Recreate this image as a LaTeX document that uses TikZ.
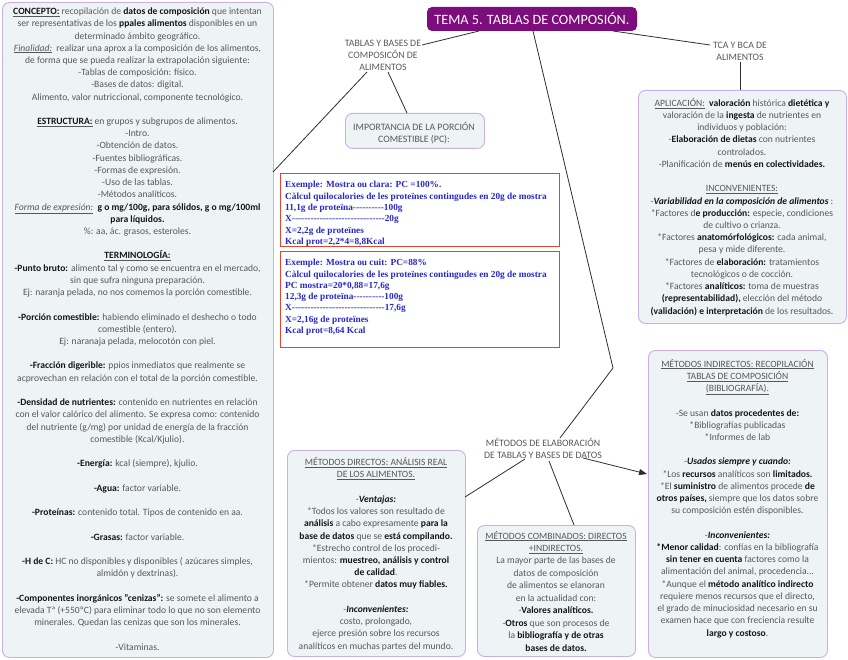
\documentclass[tikz,border=0pt]{standalone}
\usepackage{fontspec}
\setmainfont{Carlito}
\newfontfamily\tnr{Liberation Serif}
\usetikzlibrary{calc,arrows.meta}
\definecolor{panelfill}{RGB}{238,243,246}
\definecolor{panelline}{RGB}{200,176,236}
\definecolor{titlepurple}{RGB}{125,12,125}
\definecolor{txtgray}{RGB}{88,88,88}
\definecolor{bkt}{RGB}{22,22,22}
\definecolor{calcblue}{RGB}{40,40,200}
\definecolor{calcred}{RGB}{222,72,46}
\definecolor{linec}{RGB}{45,45,45}
\newcommand{\bk}[1]{\textbf{\color{bkt}#1}}
\newcommand{\uln}[1]{\underline{#1}}
\newcommand{\sq}{\char34\relax}
\ExplSyntaxOn
\cs_new:Npn \dashrun #1 {\prg_replicate:nn{#1}{-\kern0pt}}
\ExplSyntaxOff
\tikzset{
  panel/.style={draw=panelline, fill=panelfill, line width=0.9pt, rounded corners=7pt, inner sep=0pt, anchor=north west},
  body/.style={align=center, text=txtgray, inner sep=0pt, font=\fontsize{9.6}{12.22}\selectfont, anchor=base},
  lbl/.style={align=center, text=txtgray, inner sep=0pt, font=\fontsize{9.8}{12.2}\selectfont, anchor=base},
  calcbox/.style={draw=calcred, line width=1.3pt, fill=white, inner sep=0pt, anchor=north west},
  calctext/.style={align=left, text=calcblue, inner sep=0pt, anchor=base west, font=\tnr\bfseries\fontsize{9.3}{11.3}\selectfont},
  titlebox/.style={fill=titlepurple, text=white, rounded corners=5pt, inner sep=0pt, minimum width=210pt, minimum height=24pt, font=\fontsize{14.2}{16}\selectfont},
  conn/.style={draw=linec, line width=0.8pt}
}
\begin{document}
\begin{tikzpicture}[x=1pt,y=-1pt]
\useasboundingbox (0,0) rectangle (848,660);

% ---------------- boxes ----------------
\node[panel, minimum width=271pt, minimum height=655pt] (leftbox) at (2,2) {};
\node[panel, minimum width=208pt, minimum height=233pt] (aplbox) at (638,90) {};
\node[panel, minimum width=139pt, minimum height=35pt] (impbox) at (345,113) {};
\node[calcbox, minimum width=279pt, minimum height=73pt] (red1) at (280,173) {};
\node[calcbox, minimum width=279pt, minimum height=96pt] (red2) at (280,251) {};
\node[panel, minimum width=178pt, minimum height=206pt] (dirbox) at (287,450) {};
\node[panel, minimum width=158pt, minimum height=131pt] (combox) at (477,525) {};
\node[panel, minimum width=179pt, minimum height=307pt] (indbox) at (648,350) {};
\node[titlebox] (title) at (532,19) {TEMA 5. TABLAS DE COMPOSIÓN.};

% ---------------- labels (anchor = baseline of last line) ----------------
\node[lbl] (tablas) at (383,70.5) {TABLAS Y BASES DE\\COMPOSICÓN DE\\ALIMENTOS};
\node[lbl] (tca) at (740,60.5) {TCA Y BCA DE\\ALIMENTOS};
\node[lbl] (imp) at (414,142.5) {IMPORTANCIA DE LA PORCIÓN\\COMESTIBLE (PC):};
\node[lbl] (metodos) at (543,458.5) {MÉTODOS DE ELABORACIÓN\\DE TABLAS Y BASES DE DATOS};

% ---------------- left panel text ----------------
\node[body] (lefttext) at (137.5,650) {%
\uln{\bk{CONCEPTO:}} recopilación de \bk{datos de composición} que intentan\\
ser representativas de los \bk{ppales alimentos} disponibles en un\\
determinado ámbito geográfico.\\
\uln{\textit{Finalidad:}}\ \ realizar una aprox a la composición de los alimentos,\\
de forma que se pueda realizar la extrapolación siguiente:\\
-Tablas de composición: físico.\\
-Bases de datos: digital.\\
Alimento, valor nutriccional, componente tecnológico.\\[12.22pt]
\uln{\bk{ESTRUCTURA:}} en grupos y subgrupos de alimentos.\\
-Intro.\\
-Obtención de datos.\\
-Fuentes bibliográficas.\\
-Formas de expresión.\\
-Uso de las tablas.\\
-Métodos analíticos.\\
\uln{\textit{Forma de expresión:}}\ \ \bk{g o mg/100g, para sólidos, g o mg/100ml}\\
\bk{para líquidos.}\\
\%: aa, ác. grasos, esteroles.\\[12.22pt]
\uln{\bk{TERMINOLOGÍA:}}\\
\bk{-Punto bruto:} alimento tal y como se encuentra en el mercado,\\
sin que sufra ninguna preparación.\\
Ej: naranja pelada, no nos comemos la porción comestible.\\[12.22pt]
\bk{-Porción comestible:} habiendo eliminado el deshecho o todo\\
comestible (entero).\\
Ej: naranaja pelada, melocotón con piel.\\[12.22pt]
\bk{-Fracción digerible:} ppios inmediatos que realmente se\\
acprovechan en relación con el total de la porción comestible.\\[12.22pt]
\bk{-Densidad de nutrientes:} contenido en nutrientes en relación\\
con el valor calórico del alimento. Se expresa como: contenido\\
del nutriente (g/mg) por unidad de energía de la fracción\\
comestible (Kcal/Kjulio).\\[12.22pt]
\bk{-Energía:} kcal (siempre), kjulio.\\[12.22pt]
\bk{-Agua:} factor variable.\\[12.22pt]
\bk{-Proteínas:} contenido total. Tipos de contenido en aa.\\[12.22pt]
\bk{-Grasas:} factor variable.\\[12.22pt]
\bk{-H de C:} HC no disponibles y disponibles ( azúcares simples,\\
almidón y dextrinas).\\[12.22pt]
\bk{-Componentes inorgánicos \sq cenizas\sq:} se somete el alimento a\\
elevada Tª (+550ºC) para eliminar todo lo que no son elemento\\
minerales. Quedan las cenizas que son los minerales.\\[12.22pt]
-Vitaminas.};

% ---------------- aplicacion text ----------------
\node[body] (apltext) at (742,314) {%
\uln{APLICACIÓN:}\ \ \bk{valoración} histórica \bk{dietética y}\\
valoración de la \bk{ingesta} de nutrientes en\\
individuos y población:\\
-\bk{Elaboración de dietas} con nutrientes\\
controlados.\\
-Planificación de \bk{menús en colectividades.}\\[12.22pt]
\uln{INCONVENIENTES:}\\
-\bk{\textit{Variabilidad en la composición de alimentos}} :\\
*Factores d\bk{e producción:} especie, condiciones\\
de cultivo o crianza.\\
*Factores \bk{anatomórfológicos:} cada animal,\\
pesa y mide diferente.\\
*Factores de \bk{elaboración:} tratamientos\\
tecnológicos o de cocción.\\
*Factores \bk{analíticos:} toma de muestras\\
\bk{(representabilidad),} elección del método\\
\bk{(validación) e interpretación} de los resultados.};

% ---------------- calc boxes ----------------
\node[calctext] (calc1) at (285,244.5) {%
Exemple: Mostra ou clara: PC =100\%.\\
Càlcul quilocalories de les proteïnes contingudes en 20g de mostra\\
11,1g de proteïna\dashrun{10}100g\\
X\dashrun{30}20g\\
X=2,2g de proteïnes\\
Kcal prot=2,2*4=8,8Kcal};
\node[calctext] (calc2) at (285,333.5) {%
Exemple: Mostra ou cuit: PC=88\%\\
Càlcul quilocalories de les proteïnes contingudes en 20g de mostra\\
PC mostra=20*0,88=17,6g\\
12,3g de proteïna\dashrun{10}100g\\
X\dashrun{30}17,6g\\
X=2,16g de proteïnes\\
Kcal prot=8,64 Kcal};

% ---------------- directos ----------------
\node[body] (dirtext) at (376,649) {%
\uln{MÉTODOS DIRECTOS: ANÁLISIS REAL}\\
\uln{DE LOS ALIMENTOS.}\\[12.22pt]
-\bk{\textit{Ventajas:}}\\
*Todos los valores son resultado de\\
\bk{análisis} a cabo expresamente \bk{para la}\\
\bk{base de datos} que se \bk{está compilando.}\\
*Estrecho control de los procedi-\\
mientos: \bk{muestreo, análisis y control}\\
\bk{de calidad}.\\
*Permite obtener \bk{datos muy fiables.}\\[12.22pt]
-\bk{\textit{Inconvenientes:}}\\
costo, prolongado,\\
ejerce presión sobre los recursos\\
analíticos en muchas partes del mundo.};

% ---------------- combinados ----------------
\node[body, font=\fontsize{9.6}{12.44}\selectfont] (comtext) at (556,651) {%
\uln{MÉTODOS COMBINADOS: DIRECTOS}\\
\uln{+INDIRECTOS.}\\
La mayor parte de las bases de\\
datos de composición\\
de alimentos se elanoran\\
en la actualidad con:\\
-\bk{Valores analíticos.}\\
-\bk{Otros} que son procesos de\\
la \bk{bibliografía y de otras}\\
\bk{bases de datos.}};

% ---------------- indirectos ----------------
\node[body] (indtext) at (737.5,636) {%
\uln{MÉTODOS INDIRECTOS: RECOPILACIÓN}\\
\uln{TABLAS DE COMPOSICIÓN}\\
\uln{(BIBLIOGRAFÍA).}\\[12.22pt]
-Se usan \bk{datos procedentes de:}\\
*Bibliografías publicadas\\
*Informes de lab\\[12.22pt]
-\bk{\textit{Usados siempre y cuando:}}\\
*Los \bk{recursos} analíticos son \bk{limitados.}\\
*El \bk{suministro} de alimentos procede \bk{de}\\
\bk{otros países,} siempre que los datos sobre\\
su composición estén disponibles.\\[12.22pt]
-\bk{\textit{Inconvenientes:}}\\
\bk{*Menor calidad}: confías en la bibliografía\\
\bk{sin tener en cuenta} factores como la\\
alimentación del animal, procedencia...\\
*Aunque el \bk{método analítico indirecto}\\
requiere menos recursos que el directo,\\
el grado de minuciosidad necesario en su\\
examen hace que con freciencia resulte\\
\bk{largo y costoso}.};

% ---------------- connector points ----------------
\coordinate (tT) at (479,31);
\coordinate (tTab) at (422,45);
\coordinate (tR) at (613,31);
\coordinate (tTca) at (710,45);
\coordinate (tcaB) at (740,62);
\coordinate (aplT) at (740,90);
\coordinate (tabL) at (367,72);
\coordinate (leftR) at (273,172);
\coordinate (tabB) at (388,72);
\coordinate (impT) at (407,113);
\coordinate (tM) at (533,31);
\coordinate (bend) at (613,368);
\coordinate (metT) at (560,438);
\coordinate (met1) at (525,459);
\coordinate (dirR) at (465,497);
\coordinate (met2) at (549,461);
\coordinate (comT) at (574,525);
\coordinate (met3) at (583,458);
\coordinate (indL) at (647,474);

\draw[conn] (tT) -- (tTab);
\draw[conn] (tR) -- (tTca);
\draw[conn] (tcaB) -- (aplT);
\draw[conn] (tabL) -- (leftR);
\draw[conn] (tabB) -- (impT);
\draw[conn] (tM) -- (bend) -- (metT);
\draw[conn] (met1) -- (dirR);
\draw[conn] (met2) -- (comT);
\draw[conn, -{Triangle[length=8pt,width=6pt]}] (met3) -- (indL);
\end{tikzpicture}
\end{document}
